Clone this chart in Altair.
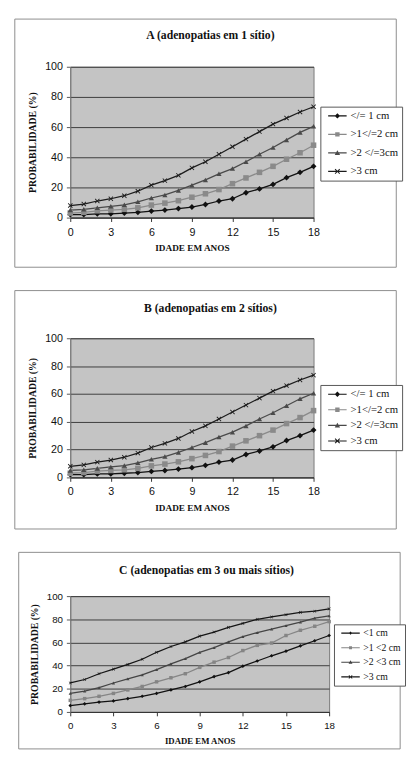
import altair as alt
import pandas as pd

idade = list(range(19))

# Panels A and B (same curves)
series_ab = ["</= 1 cm", ">1</=2 cm", ">2 </=3cm", ">3 cm"]
ab_le1 = [2, 2, 2.5, 2.5, 3, 3.5, 4.3, 5, 6, 7, 8.7, 11, 12.5, 16.5, 19, 22, 26.5, 30, 34]
ab_1a2 = [3, 3.5, 4.5, 5, 5.5, 6.5, 8.3, 9.6, 11.2, 13.5, 15.8, 18.6, 22.5, 26.3, 30, 34, 38.7, 43, 48]
ab_2a3 = [5, 5.5, 6.5, 7.5, 8.5, 10.5, 13, 15, 18, 21.5, 25, 29, 32.5, 37, 42, 46.5, 51.5, 56.5, 60.5]
ab_gt3 = [8, 9, 11, 12.5, 14.5, 17.5, 21.5, 24.5, 28, 33, 37, 42, 47, 52, 57, 62, 66, 70, 73.5]

# Panel C
series_c = ["<1 cm", ">1 <2 cm", ">2 <3 cm", ">3 cm"]
c_lt1 = [5.5, 7, 8.5, 9.5, 11.5, 13.5, 16, 19, 22, 26, 30.5, 34, 39.5, 44, 48.5, 52.5, 57, 61.5, 66]
c_1a2 = [10, 11.5, 13.5, 16, 19, 22, 26, 29.5, 33, 38.5, 43, 47, 53, 57.5, 59.5, 66, 70.5, 74, 78]
c_2a3 = [16, 18, 21, 25, 28.5, 32, 36.5, 41.5, 46, 51.5, 55.5, 60.5, 65, 68.5, 71.5, 74.5, 77.5, 81, 83]
c_gt3 = [25, 28, 33, 37, 41, 45.5, 51.5, 56.5, 60.5, 65.5, 69, 73, 76.5, 80, 82, 84, 86, 87, 89]

x_ticks = [0, 3, 6, 9, 12, 15, 18]
y_ticks = [0, 20, 40, 60, 80, 100]

colors_ab = ["#111111", "#8a8a8a", "#4a4a4a", "#1c1c1c"]
colors_c = ["#111111", "#858585", "#444444", "#151515"]

X_PATH = "M-1,-0.75L-0.75,-1L0,-0.25L0.75,-1L1,-0.75L0.25,0L1,0.75L0.75,1L0,0.25L-0.75,1L-1,0.75L-0.25,0Z"
shapes_plot = ["diamond", "square", "triangle-up", X_PATH]

LINE = "M-3.8,-0.22H3.8V0.22H-3.8Z"
leg_shapes_ab = [
    LINE + "M0,-1.1L1.1,0L0,1.1L-1.1,0Z",
    LINE + "M-0.9,-0.9H0.9V0.9H-0.9Z",
    LINE + "M0,-1.1L1.1,0.9H-1.1Z",
    LINE + "M-1.1,-0.8L-0.8,-1.1L0,-0.3L0.8,-1.1L1.1,-0.8L0.3,0L1.1,0.8L0.8,1.1L0,0.3L-0.8,1.1L-1.1,0.8L-0.3,0Z",
]
leg_shapes_c = [
    LINE + "M0,-0.7L0.7,0L0,0.7L-0.7,0Z",
    LINE + "M-0.6,-0.6H0.6V0.6H-0.6Z",
    LINE + "M0,-0.8L0.8,0.6H-0.8Z",
    LINE + "M-0.8,-0.6L-0.6,-0.8L0,-0.2L0.6,-0.8L0.8,-0.6L0.2,0L0.8,0.6L0.6,0.8L0,0.2L-0.6,0.8L-0.8,0.6L-0.2,0Z",
]


def long_df(series, cols):
    rows = []
    for s, vals in zip(series, cols):
        for a, v in zip(idade, vals):
            rows.append({"idade": a, "prob": v, "serie": s})
    return pd.DataFrame(rows)


def panel(df, series, colors, leg_shapes, title, w, h, frame, title_xy, leg_xy,
          pt_sizes, fs, leg_row_pad, title_fs, xt_fs):
    one = alt.Data(values=[{"k": 0}])
    fx, fy, fx2, fy2 = frame
    frame_l = alt.Chart(one).mark_rect(filled=False, stroke="#8c8c8c", strokeWidth=1).encode(
        x=alt.value(fx), x2=alt.value(fx2), y=alt.value(fy), y2=alt.value(fy2))
    title_l = alt.Chart(one).mark_text(
        font="Liberation Serif", fontWeight="bold", fontSize=title_fs, color="#111",
        align="center", baseline="middle").encode(
        x=alt.value(title_xy[0]), y=alt.value(title_xy[1]), text=alt.value(title))

    xenc = alt.X("idade:Q", scale=alt.Scale(domain=[0, 18], nice=False),
                 axis=alt.Axis(values=x_ticks, title="IDADE EM ANOS", grid=False,
                               titleFont="Liberation Serif", titleFontWeight="bold",
                               titleFontSize=xt_fs, titleColor="#111", titlePadding=6,
                               labelFont="Liberation Sans", labelFontSize=fs, labelColor="#111",
                               labelPadding=5, labelFlush=False, tickSize=4,
                               tickColor="#333", domainColor="#333"))
    yenc = alt.Y("prob:Q", scale=alt.Scale(domain=[0, 100], nice=False),
                 axis=alt.Axis(values=y_ticks, title="PROBABILIDADE (%)", grid=True,
                               gridColor="#3c3c3c", gridWidth=1,
                               titleFont="Liberation Serif", titleFontWeight="bold",
                               titleFontSize=10, titleColor="#111", titlePadding=7,
                               labelFont="Liberation Sans", labelFontSize=fs, labelColor="#111",
                               labelPadding=4, labelFlush=False, tickSize=4,
                               tickColor="#555", domainColor="#777"))
    cscale = alt.Scale(domain=series, range=colors)
    base = alt.Chart(df)
    lines = base.mark_line(strokeWidth=1.3).encode(
        x=xenc, y=yenc, color=alt.Color("serie:N", scale=cscale, legend=None))
    pts = base.mark_point(filled=True, opacity=1).encode(
        x=xenc, y=yenc,
        color=alt.Color("serie:N", scale=cscale, legend=None),
        shape=alt.Shape("serie:N", scale=alt.Scale(domain=series, range=shapes_plot), legend=None),
        size=alt.Size("serie:N", scale=alt.Scale(domain=series, range=pt_sizes), legend=None))
    leg = alt.Legend(orient="none", legendX=leg_xy[0], legendY=leg_xy[1], title=None,
                     labelFont="Liberation Serif", labelFontSize=fs, labelColor="#111",
                     symbolSize=25, symbolStrokeWidth=0, symbolOffset=8, labelOffset=8,
                     rowPadding=leg_row_pad, padding=4, strokeColor="#555",
                     fillColor="white", labelLimit=200)
    leg_l = base.transform_filter("datum.idade > 999").mark_point(filled=True, opacity=1).encode(
        color=alt.Color("serie:N", scale=alt.Scale(domain=series, range=colors), legend=leg),
        shape=alt.Shape("serie:N", scale=alt.Scale(domain=series, range=leg_shapes), legend=leg))
    return alt.layer(frame_l, title_l, lines, pts, leg_l).properties(
        width=w, height=h,
        view=alt.ViewBackground(fill="#c4c4c4", stroke="#7a7a7a", strokeWidth=1),
    ).resolve_scale(color="independent", shape="independent", size="independent")


df_ab = long_df(series_ab, [ab_le1, ab_1a2, ab_2a3, ab_gt3])
df_c = long_df(series_c, [c_lt1, c_1a2, c_2a3, c_gt3])

pA = panel(df_ab, series_ab, colors_ab, leg_shapes_ab, "A (adenopatias em 1 sítio)",
           250, 155, (-57, -49, 335, 206), (144, -33), (257, 41),
           [36, 25, 36, 49], 11, 7, 12, 9.5)
pB = panel(df_ab, series_ab, colors_ab, leg_shapes_ab, "B (adenopatias em 2 sítios)",
           250, 143, (-57, -49, 335, 196), (144, -31), (257, 48),
           [36, 25, 36, 49], 11, 4, 12, 9.5)
pC = panel(df_c, series_c, colors_c, leg_shapes_c, "C (adenopatias em 3 ou mais sítios)",
           266, 119, (-53, -45, 339, 157), (140, -27), (271, 29),
           [14, 10, 14, 16], 10, 5, 12, 9)

chart = alt.concat(pA, pB, pC, columns=1, spacing=22, align="none").resolve_scale(
    color="independent", shape="independent", size="independent", x="independent", y="independent"
).properties(padding={"left": 6, "top": 0, "right": 0, "bottom": 0}, background="white"
).configure_view(fill="#c4c4c4", stroke="#7a7a7a", strokeWidth=1)

chart.save("out.html", embed_options={"renderer": "svg", "actions": False})
